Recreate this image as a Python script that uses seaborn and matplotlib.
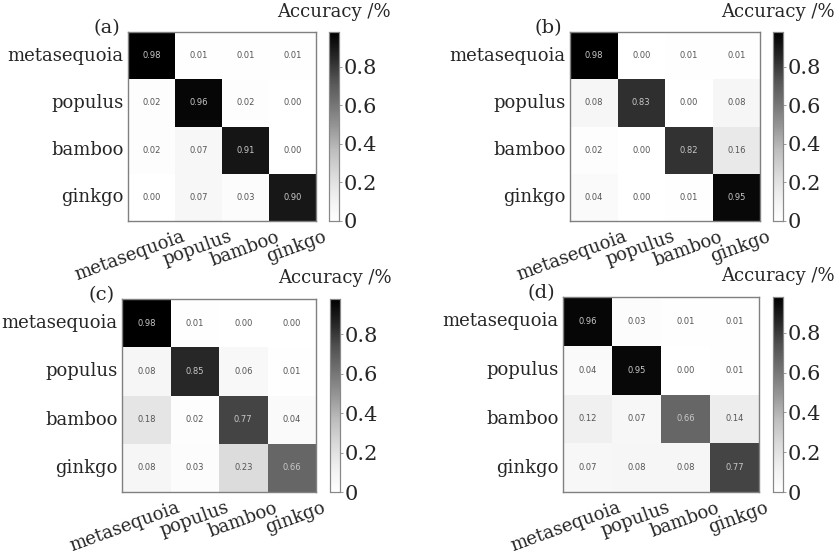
import numpy as np
import pandas as pd
import matplotlib
matplotlib.use("Agg")
import matplotlib.pyplot as plt
import matplotlib.transforms as mtransforms
import seaborn as sns

# class names
classes = ["metasequoia", "populus", "bamboo", "ginkgo"]

# confusion matrices (row = true class)
cm_a = [[0.98, 0.01, 0.01, 0.01],
        [0.02, 0.96, 0.02, 0.00],
        [0.02, 0.07, 0.91, 0.00],
        [0.00, 0.07, 0.03, 0.90]]
cm_b = [[0.98, 0.00, 0.01, 0.01],
        [0.08, 0.83, 0.00, 0.08],
        [0.02, 0.00, 0.82, 0.16],
        [0.04, 0.00, 0.01, 0.95]]
cm_c = [[0.98, 0.01, 0.00, 0.00],
        [0.08, 0.85, 0.06, 0.01],
        [0.18, 0.02, 0.77, 0.04],
        [0.08, 0.03, 0.23, 0.66]]
cm_d = [[0.96, 0.03, 0.01, 0.01],
        [0.04, 0.95, 0.00, 0.01],
        [0.12, 0.07, 0.66, 0.14],
        [0.07, 0.08, 0.08, 0.77]]
panel_labels = ["(a)", "(b)", "(c)", "(d)"]
cbar_ticks = [0, 0.2, 0.4, 0.6, 0.8]
cbar_ticklabels = ["0", "0.2", "0.4", "0.6", "0.8"]

sns.set_style("white")
plt.rcParams["font.family"] = ["DejaVu Serif"]

W, H = 838, 554
fig = plt.figure(figsize=(W / 100, H / 100), dpi=100)

# pixel boxes: heatmap (left, top, right, bottom), colorbar (left, right)
boxes = [
    ((128, 32, 316, 221), (329, 339)),
    ((570, 32, 760, 221), (773, 783)),
    ((122, 299, 316, 492), (330, 340)),
    ((563, 297, 759, 492), (773, 783)),
]


def frac(l, t, r, b):
    return [l / W, 1 - b / H, (r - l) / W, (b - t) / H]


# x labels sit a bit right of their ticks in the original
shift = mtransforms.ScaledTranslation(0.30, -0.025, fig.dpi_scale_trans)

for cm, lab, (hb, cb) in zip([cm_a, cm_b, cm_c, cm_d], panel_labels, boxes):
    df = pd.DataFrame(cm, index=classes, columns=classes)
    ax = fig.add_axes(frac(*hb))
    cax = fig.add_axes(frac(cb[0], hb[1], cb[1], hb[3]))
    sns.heatmap(df, ax=ax, cbar_ax=cax, cmap="Greys", vmin=0, vmax=0.98,
                annot=True, fmt=".2f", square=False,
                annot_kws={"fontsize": 6, "family": "DejaVu Sans"})
    for t, v in zip(ax.texts, np.array(cm).ravel()):
        t.set_color("#c8c8c8" if v > 0.5 else "#555555")
    for s in ax.spines.values():
        s.set_visible(True)
        s.set_color("#808080")
        s.set_linewidth(1.0)
    ax.tick_params(axis="both", length=2, width=0.6, color="#999999",
                   labelsize=13, pad=1)
    ax.set_yticklabels(classes, rotation=0)
    ax.set_xticklabels(classes, rotation=20, ha="right", va="top",
                       rotation_mode="anchor")
    for t in ax.get_xticklabels():
        t.set_transform(t.get_transform() + shift)
    ax.set_xlabel("")
    ax.set_ylabel("")
    cax.set_yticks(cbar_ticks)
    cax.set_yticklabels(cbar_ticklabels)
    cax.tick_params(labelsize=15, length=2, width=0.6, color="#888888", pad=1)
    for s in cax.spines.values():
        s.set_visible(True)
        s.set_color("#888888")
        s.set_linewidth(0.8)
    ax.text(-0.04, 1.02, lab, transform=ax.transAxes, ha="right", va="center",
            fontsize=14)
    cax.text(0.5, 1.06, "Accuracy /%", transform=cax.transAxes, ha="center",
             va="bottom", fontsize=13)

fig.savefig("out.png", dpi=100)
